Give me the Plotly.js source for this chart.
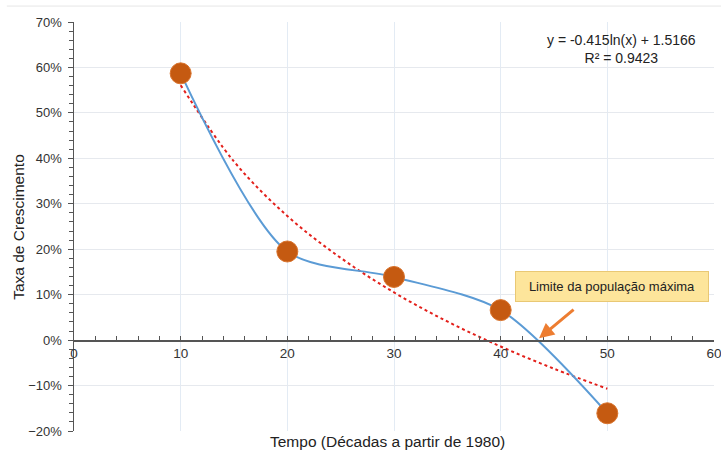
<!DOCTYPE html>
<html>
<head>
<meta charset="utf-8">
<script src="https://cdn.plot.ly/plotly-3.0.1.min.js"></script>
<style>html,body{margin:0;padding:0;background:#fff;}#chart{width:721px;height:451px;}</style>
</head>
<body>
<div id="chart"></div>
<script>
// Observed data (decades since 1980 vs growth rate)
const decades = [10, 20, 30, 40, 50];
const growthRate = [0.587, 0.195, 0.139, 0.066, -0.161];

// Logarithmic trendline values
const trendX = [10, 15, 20, 25, 30, 35, 40, 45, 50];
const trendY = [0.561, 0.393, 0.273, 0.181, 0.105, 0.041, -0.014, -0.063, -0.107];

const yTickVals = [-0.2, -0.1, 0, 0.1, 0.2, 0.3, 0.4, 0.5, 0.6, 0.7];
const xTickVals = [0, 10, 20, 30, 40, 50, 60];

const equationText = 'y = -0.415ln(x) + 1.5166<br>R² = 0.9423';
const calloutText = 'Limite da população máxima';
const xTitle = 'Tempo (Décadas a partir de 1980)';
const yTitle = 'Taxa de Crescimento';

const font = 'Liberation Sans, Arial, sans-serif';
const yMin = -0.2, yMax = 0.7;
const zeroPos = (0 - yMin) / (yMax - yMin);

const traces = [
  {
    x: trendX, y: trendY, mode: 'lines', type: 'scatter',
    line: {color: '#e3201b', width: 2, dash: 'dot', shape: 'spline'},
    hoverinfo: 'skip', showlegend: false
  },
  {
    x: decades, y: growthRate, mode: 'lines', type: 'scatter',
    line: {color: '#5b9bd5', width: 2, shape: 'spline', smoothing: 0.8},
    showlegend: false
  },
  {
    x: decades, y: growthRate, mode: 'markers', type: 'scatter',
    marker: {color: '#c55a11', size: 21, line: {color: '#d9742e', width: 1}},
    showlegend: false
  }
];

const layout = {
  width: 721, height: 451,
  margin: {l: 74, r: 7, t: 22, b: 20},
  paper_bgcolor: '#fff', plot_bgcolor: '#fff',
  font: {family: font, color: '#404040', size: 11},
  xaxis: {
    range: [0, 60], tickvals: xTickVals, ticktext: xTickVals.map(String),
    anchor: 'free', position: zeroPos,
    showgrid: true, gridcolor: '#e3ebf4', gridwidth: 1,
    showline: true, linecolor: '#555', linewidth: 1.5,
    ticks: 'inside', ticklen: 4, tickcolor: '#555',
    minor: {dtick: 2, ticks: 'inside', ticklen: 4, tickcolor: '#555', showgrid: false},
    tickfont: {family: font, size: 13.5, color: '#333'},
    ticklabeloverflow: 'allow',
    zeroline: false
  },
  yaxis: {
    range: [yMin, yMax], tickvals: yTickVals, tickformat: '.0%',
    showgrid: true, gridcolor: '#e6e9ee', gridwidth: 1,
    showline: true, linecolor: '#555', linewidth: 1.5,
    ticks: 'outside', ticklen: 5, tickcolor: '#555',
    minor: {dtick: 0.02, ticks: 'outside', ticklen: 4, tickcolor: '#555', showgrid: false},
    tickfont: {family: font, size: 13, color: '#333'},
    ticklabelstandoff: 3,
    zeroline: false
  },
  shapes: [
    {type: 'line', xref: 'paper', yref: 'paper', x0: -0.105, x1: 1.02, y0: 1.039, y1: 1.039,
     line: {color: '#e6e6e6', width: 1}}
  ],
  annotations: [
    {text: equationText, xref: 'x', yref: 'paper', x: 51.3, y: 0.933, showarrow: false,
     align: 'center', xanchor: 'center', yanchor: 'middle',
     font: {family: font, size: 14, color: '#222'}},
    {text: calloutText, xref: 'x', yref: 'y', x: 50.4, y: 0.119, showarrow: false,
     xanchor: 'center', yanchor: 'middle', width: 188, height: 25,
     bgcolor: '#fde59b', bordercolor: '#e9c874', borderwidth: 1, borderpad: 2,
     font: {family: font, size: 13, color: '#222'}},
    {text: '', xref: 'x', yref: 'y', x: 43.6, y: 0.004, showarrow: true,
     ax: 36, ay: -30, arrowcolor: '#ed7d31', arrowwidth: 3, arrowhead: 2, arrowsize: 1},
    {text: xTitle, xref: 'paper', yref: 'paper', x: 0.49, y: -0.0245, showarrow: false,
     xanchor: 'center', yanchor: 'middle', font: {family: font, size: 15.5, color: '#222'}},
    {text: yTitle, xref: 'paper', yref: 'paper', x: -0.087, y: 0.5, showarrow: false,
     textangle: -90, xanchor: 'center', yanchor: 'middle',
     font: {family: font, size: 15.5, color: '#222'}}
  ]
};

Plotly.newPlot('chart', traces, layout, {displayModeBar: false, staticPlot: true});
</script>
</body>
</html>
